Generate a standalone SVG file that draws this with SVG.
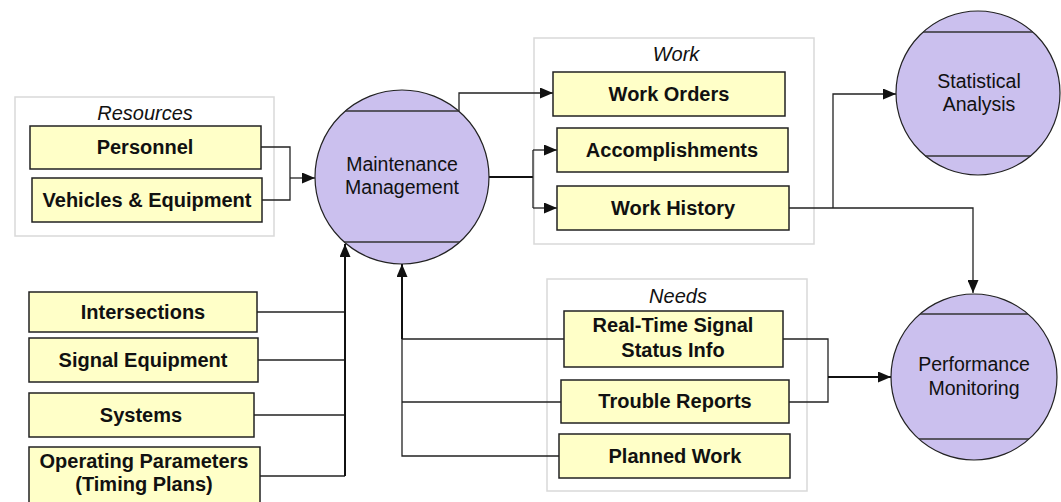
<svg xmlns="http://www.w3.org/2000/svg" width="1061" height="502" viewBox="0 0 1061 502">
  <style>
    .grp { fill: #ffffff; stroke: #d9d9d9; stroke-width: 1.5; }
    .grp-label { font-family: "Liberation Sans", Arial, sans-serif; font-size: 20px; font-style: italic; fill: #111; text-anchor: middle; }
    .box { fill: #ffffc8; stroke: #222; stroke-width: 1.5; }
    .box-label { font-family: "Liberation Sans", Arial, sans-serif; font-size: 20px; font-weight: bold; fill: #111; text-anchor: middle; }
    .proc { fill: #cbc0ee; stroke: #222; stroke-width: 1.2; }
    .chord { stroke: #333; stroke-width: 1.5; fill: none; }
    .proc-label { font-family: "Liberation Sans", Arial, sans-serif; font-size: 19.5px; fill: #111; text-anchor: middle; }
    .conn { fill: none; stroke: #222; stroke-width: 1.3; }
    .trunk { fill: none; stroke: #111; stroke-width: 2; }
  </style>
  <defs>
    <marker id="arrow" viewBox="0 0 13 11" refX="13" refY="5.5" markerWidth="13" markerHeight="11" markerUnits="userSpaceOnUse" orient="auto">
      <path d="M0,0 L13,5.5 L0,11 Z" fill="#111"/>
    </marker>
  </defs>

  <rect width="1061" height="502" fill="#ffffff"/>

  <!-- Group frames -->
  <g id="group-resources">
    <rect class="grp" x="15" y="97" width="259" height="139"/>
    <text class="grp-label" x="145" y="120">Resources</text>
  </g>
  <g id="group-work">
    <rect class="grp" x="534" y="38" width="280" height="206"/>
    <text class="grp-label" x="676" y="61">Work</text>
  </g>
  <g id="group-needs">
    <rect class="grp" x="547" y="279" width="260" height="212"/>
    <text class="grp-label" x="678" y="303">Needs</text>
  </g>

  <!-- Connectors -->
  <g id="connectors">
    <!-- resources into maintenance -->
    <path class="conn" d="M261,147 H290 V200 H262"/>
    <path class="conn" d="M290,178 H315" marker-end="url(#arrow)"/>
    <!-- inventory into maintenance -->
    <path class="conn" d="M257,312 H345"/>
    <path class="conn" d="M258,360 H345"/>
    <path class="conn" d="M254,415 H345"/>
    <path class="conn" d="M260,476 H345"/>
    <path class="trunk" d="M345,476 V244" marker-end="url(#arrow)"/>
    <!-- needs into maintenance -->
    <path class="conn" d="M559,456 H402 V339"/>
    <path class="conn" d="M561,402 H402"/>
    <path class="conn" d="M564,339 H402"/>
    <path class="trunk" d="M402,339 V264" marker-end="url(#arrow)"/>
    <!-- maintenance out to work -->
    <path class="conn" d="M459,111 V93 H553" marker-end="url(#arrow)"/>
    <path class="trunk" d="M489,177 H533"/>
    <path class="conn" d="M533,150 V208"/>
    <path class="conn" d="M533,150 H557" marker-end="url(#arrow)"/>
    <path class="conn" d="M533,208 H557" marker-end="url(#arrow)"/>
    <!-- work history out -->
    <path class="conn" d="M789,208 H973 V293" marker-end="url(#arrow)"/>
    <path class="conn" d="M833,208 V94 H896" marker-end="url(#arrow)"/>
    <!-- needs to performance -->
    <path class="conn" d="M783,339 H828 V402 H789"/>
    <path class="trunk" d="M828,377 H891" marker-end="url(#arrow)"/>
  </g>

  <!-- Processes -->
  <g id="maintenance-management">
    <circle class="proc" cx="402" cy="177" r="87"/>
    <line class="chord" x1="345" y1="111" x2="459" y2="111"/>
    <line class="chord" x1="344" y1="242" x2="460" y2="242"/>
    <text class="proc-label" x="402" y="171">Maintenance</text>
    <text class="proc-label" x="402" y="194">Management</text>
  </g>
  <g id="statistical-analysis">
    <circle class="proc" cx="978" cy="93" r="82"/>
    <line class="chord" x1="923" y1="32" x2="1033" y2="32"/>
    <line class="chord" x1="925" y1="156" x2="1031" y2="156"/>
    <text class="proc-label" x="979" y="88">Statistical</text>
    <text class="proc-label" x="979" y="111">Analysis</text>
  </g>
  <g id="performance-monitoring">
    <circle class="proc" cx="974" cy="377" r="83"/>
    <line class="chord" x1="920" y1="314" x2="1028" y2="314"/>
    <line class="chord" x1="919" y1="439" x2="1029" y2="439"/>
    <text class="proc-label" x="974" y="371">Performance</text>
    <text class="proc-label" x="974" y="395">Monitoring</text>
  </g>

  <!-- Resources -->
  <g id="personnel">
    <rect class="box" x="30" y="126" width="231" height="43"/>
    <text class="box-label" x="145" y="154">Personnel</text>
  </g>
  <g id="vehicles-equipment">
    <rect class="box" x="32" y="178" width="230" height="44"/>
    <text class="box-label" x="147" y="207">Vehicles &amp; Equipment</text>
  </g>

  <!-- Inventory -->
  <g id="intersections">
    <rect class="box" x="29" y="292" width="228" height="40"/>
    <text class="box-label" x="143" y="319">Intersections</text>
  </g>
  <g id="signal-equipment">
    <rect class="box" x="29" y="338" width="229" height="44"/>
    <text class="box-label" x="143" y="367">Signal Equipment</text>
  </g>
  <g id="systems">
    <rect class="box" x="29" y="393" width="225" height="44"/>
    <text class="box-label" x="141" y="422">Systems</text>
  </g>
  <g id="operating-parameters">
    <rect class="box" x="29" y="447" width="231" height="60"/>
    <text class="box-label" x="144" y="468">Operating Parameters</text>
    <text class="box-label" x="144" y="491">(Timing Plans)</text>
  </g>

  <!-- Work -->
  <g id="work-orders">
    <rect class="box" x="553" y="72" width="232" height="44"/>
    <text class="box-label" x="669" y="101">Work Orders</text>
  </g>
  <g id="accomplishments">
    <rect class="box" x="557" y="128" width="231" height="44"/>
    <text class="box-label" x="672" y="157">Accomplishments</text>
  </g>
  <g id="work-history">
    <rect class="box" x="557" y="186" width="232" height="44"/>
    <text class="box-label" x="673" y="215">Work History</text>
  </g>

  <!-- Needs -->
  <g id="real-time-status">
    <rect class="box" x="564" y="311" width="219" height="56"/>
    <text class="box-label" x="673" y="332">Real-Time Signal</text>
    <text class="box-label" x="673" y="357">Status Info</text>
  </g>
  <g id="trouble-reports">
    <rect class="box" x="561" y="380" width="228" height="43"/>
    <text class="box-label" x="675" y="408">Trouble Reports</text>
  </g>
  <g id="planned-work">
    <rect class="box" x="559" y="434" width="231" height="44"/>
    <text class="box-label" x="675" y="463">Planned Work</text>
  </g>
</svg>
